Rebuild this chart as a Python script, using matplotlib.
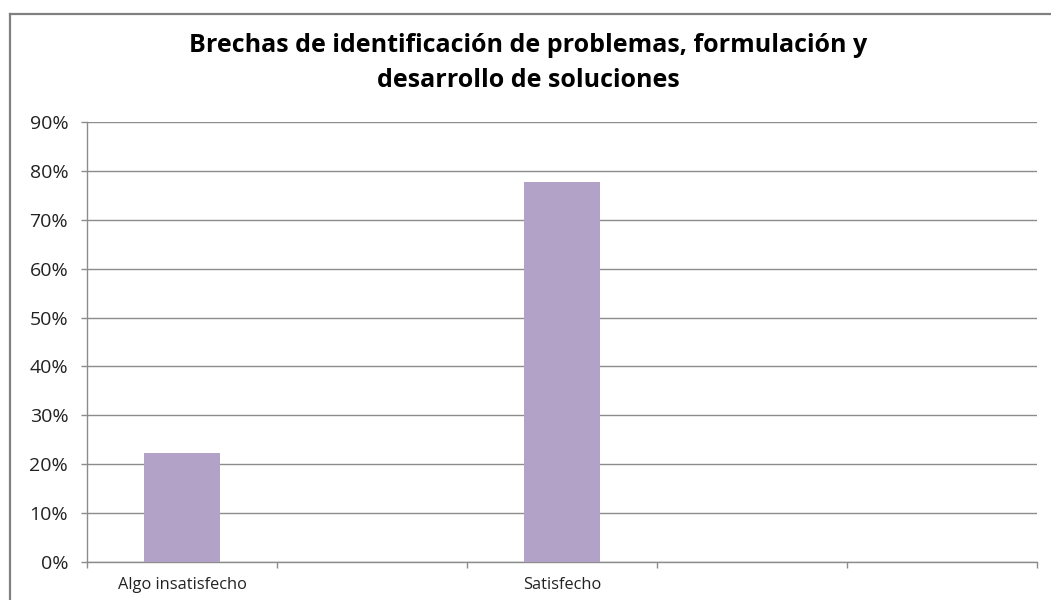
import matplotlib.pyplot as plt
from matplotlib.lines import Line2D
from matplotlib.ticker import FixedLocator, PercentFormatter

# data
categories = ["Algo insatisfecho", "", "Satisfecho", "", ""]
values = [0.222, 0.0, 0.778, 0.0, 0.0]
y_ticks = [0.0, 0.1, 0.2, 0.3, 0.4, 0.5, 0.6, 0.7, 0.8, 0.9]
title = "Brechas de identificación de problemas, formulación y\ndesarrollo de soluciones"

BAR_COLOR = "#B3A2C7"
GRID_COLOR = "#8C8C8C"
FONT = "Open Sans"

plt.rcParams["font.family"] = [FONT, "DejaVu Sans"]

fig = plt.figure(figsize=(10.51, 6.0), dpi=100)
fig.patch.set_facecolor("white")

W, H = 1051, 600
ax = fig.add_axes([87 / W, 1 - 562 / H, (1037 - 87) / W, (562 - 122) / H])

x = list(range(len(categories)))
ax.bar(x, values, width=0.4, color=BAR_COLOR, linewidth=0, zorder=3)

ax.set_xlim(-0.5, len(categories) - 0.5)
ax.set_ylim(0, 0.9)

# y axis
ax.yaxis.set_major_locator(FixedLocator(y_ticks))
ax.yaxis.set_major_formatter(PercentFormatter(1.0, decimals=0))
ax.grid(axis="y", color=GRID_COLOR, linewidth=1.0, zorder=0)
ax.tick_params(axis="y", which="major", direction="out", length=4.5, width=1.0,
               color=GRID_COLOR, pad=9, labelsize=14, labelcolor="#222222")

# x axis: ticks between categories, labels centred
ax.xaxis.set_major_locator(FixedLocator([i - 0.5 for i in range(len(categories) + 1)]))
ax.xaxis.set_minor_locator(FixedLocator(x))
ax.xaxis.set_major_formatter(plt.NullFormatter())
ax.set_xticks(x, categories, minor=True)
ax.tick_params(axis="x", which="major", direction="out", length=4.5, width=1.0,
               color=GRID_COLOR)
ax.tick_params(axis="x", which="minor", length=0, pad=11, labelsize=11.8,
               labelcolor="#222222")

for side in ("top", "right"):
    ax.spines[side].set_visible(False)
for side in ("left", "bottom"):
    ax.spines[side].set_color(GRID_COLOR)
    ax.spines[side].set_linewidth(1.0)

fig.text(528 / W, 1 - 63 / H, title, ha="center", va="center",
         fontsize=18, fontweight="bold", linespacing=1.55, color="black")

# chart area border (cut off at right and bottom in the reference)
fig.add_artist(Line2D([9.5 / W, 9.5 / W], [0, 1 - 13.5 / H], transform=fig.transFigure,
                      color="#808080", linewidth=1.6))
fig.add_artist(Line2D([9.5 / W, 1], [1 - 13.5 / H, 1 - 13.5 / H], transform=fig.transFigure,
                      color="#808080", linewidth=1.6))

fig.savefig("out.png", dpi=100)
